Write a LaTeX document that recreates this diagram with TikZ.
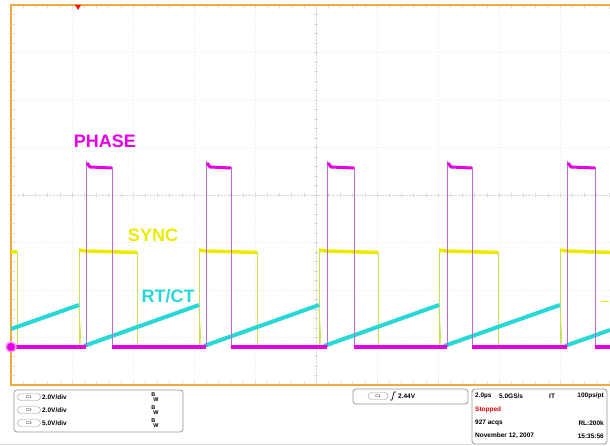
\documentclass[tikz,border=0pt]{standalone}
\usepackage{fontspec}
\setmainfont{Liberation Sans}
\usepackage{xcolor}
\definecolor{scopeorange}{RGB}{240,170,60}
\definecolor{phasemag}{RGB}{230,0,230}
\definecolor{phaseedge}{RGB}{185,110,205}
\definecolor{syncyellow}{RGB}{235,235,0}
\definecolor{syncedge}{RGB}{200,225,90}
\definecolor{rampcyan}{RGB}{40,215,215}
\definecolor{panelgray}{RGB}{150,150,150}

\begin{document}
\begin{tikzpicture}[x=1pt,y=-1pt]
            \useasboundingbox (0,0) rectangle (610,446);

            % Graticule
            \foreach \gx in {72,133,194,255,377,438,499,560}
                \draw[gray!14,dotted] (\gx,5) -- (\gx,385);
            \foreach \gy in {52.5,100,147.5,242.5,290,337.5}
                \draw[gray!14,dotted] (11,\gy) -- (610,\gy);
            \draw[gray!30,densely dotted] (316,5) -- (316,385);
            \draw[gray!30,densely dotted] (11,195) -- (610,195);
            \foreach \t in {0,...,49} {
                \draw[gray!30] (11+12.2*\t,193) -- (11+12.2*\t,197);
                \draw[gray!25] (11+12.2*\t,5) -- (11+12.2*\t,9);
                \draw[gray!25] (11+12.2*\t,381) -- (11+12.2*\t,385);
            }
            \foreach \t in {0,...,40} {
                \draw[gray!30] (314,5+9.5*\t) -- (318,5+9.5*\t);
                \draw[gray!25] (11,5+9.5*\t) -- (15,5+9.5*\t);
            }

            % Screen frame
            \draw[scopeorange,line width=2pt] (610,5) -- (11,5) -- (11,385) -- (610,385);

            % SYNC trace
            \draw[syncedge,line width=0.7pt] (17,252) -- (17,347)
                (79,347) -- (79,252) (137,252) -- (137,347)
                (199,347) -- (199,252) (257,252) -- (257,347)
                (319,347) -- (319,252) (378,252) -- (378,347)
                (439,347) -- (439,252) (498,252) -- (498,347)
                (560,347) -- (560,252);
            \draw[syncyellow,line width=3.5pt] (11,252) -- (17,252)
                (79,250) -- (86,251) -- (137,252.5)
                (199,250) -- (206,251) -- (257,252.5)
                (319,250) -- (326,251) -- (378,252.5)
                (439,250) -- (446,251) -- (498,252.5)
                (560,250) -- (567,251) -- (610,252.5);

            % RT/CT trace
            \draw[syncedge,line width=0.8pt] (79,305) -- (81,345)
                (199,305) -- (201,345) (319,305) -- (321,345)
                (439,305) -- (441,345) (560,305) -- (562,345);
            \draw[rampcyan,line width=4pt] (11,329) -- (79,305)
                (84,346) -- (199,305) (204,346) -- (319,305)
                (324,346) -- (439,305) (444,346) -- (560,305)
                (565,346) -- (610,330);

            % PHASE trace
            \draw[phaseedge,line width=1pt] (86,347) -- (86,161)
                (112,167) -- (112,347) (206,347) -- (206,161)
                (231,167) -- (231,347) (327,347) -- (327,161)
                (354,167) -- (354,347) (447,347) -- (447,161)
                (472,167) -- (472,347) (567,347) -- (567,161)
                (595,167) -- (595,347);
            \draw[phasemag,line width=3.5pt] (11,347) -- (86,347)
                (112,347) -- (206,347) (231,347) -- (327,347)
                (354,347) -- (447,347) (472,347) -- (567,347)
                (595,347) -- (610,347);
            \draw[phasemag,line width=3pt] (87,163) -- (90,167) -- (112,168)
                (207,163) -- (210,167) -- (231,168)
                (328,163) -- (331,167) -- (354,168)
                (448,163) -- (451,167) -- (472,168)
                (568,163) -- (571,167) -- (595,168);

            % Markers
            \fill[phasemag,draw=phasemag!40,line width=1.5pt] (11,347) circle (5);
            \fill[red!85!orange] (75,5) -- (81,5) -- (78,10) -- cycle;
            \draw[syncyellow,line width=1pt] (601,301) -- (609,301);

            % Trace labels
            \node[text=phasemag,font=\bfseries\fontsize{18}{20}\selectfont] (phaselbl) at (105,141) {PHASE};
            \node[text=syncyellow,font=\bfseries\fontsize{18}{20}\selectfont] (synclbl) at (153,235) {SYNC};
            \node[text=rampcyan,fill=white,inner sep=1pt,font=\bfseries\fontsize{18}{20}\selectfont] (rtctlbl) at (168,296) {RT/CT};

            % Channel panel
            \draw[panelgray,rounded corners=3pt,line width=0.8pt] (14,390) rectangle (183,432);
            \node[draw=panelgray,rounded corners=3.5pt,minimum width=23pt,minimum height=7pt,inner sep=0pt,font=\fontsize{4}{4}\selectfont] (ch1pill) at (29,397) {C1};
            \node[draw=panelgray,rounded corners=3.5pt,minimum width=23pt,minimum height=7pt,inner sep=0pt,font=\fontsize{4}{4}\selectfont] (ch2pill) at (29,410) {C2};
            \node[draw=panelgray,rounded corners=3.5pt,minimum width=23pt,minimum height=7pt,inner sep=0pt,font=\fontsize{4}{4}\selectfont] (ch3pill) at (29,423) {C3};
            \node[anchor=west,inner sep=0pt,font=\bfseries\fontsize{6.5}{7}\selectfont] (ch1scale) at (42,397) {2.0V/div};
            \node[anchor=west,inner sep=0pt,font=\bfseries\fontsize{6.5}{7}\selectfont] (ch2scale) at (42,410) {2.0V/div};
            \node[anchor=west,inner sep=0pt,font=\bfseries\fontsize{6.5}{7}\selectfont] (ch3scale) at (42,423) {5.0V/div};
            \node[align=left,inner sep=0pt,font=\bfseries\fontsize{5.5}{4.5}\selectfont] (ch1bw) at (155,397) {B\\\hspace*{2pt}W};
            \node[align=left,inner sep=0pt,font=\bfseries\fontsize{5.5}{4.5}\selectfont] (ch2bw) at (155,410) {B\\\hspace*{2pt}W};
            \node[align=left,inner sep=0pt,font=\bfseries\fontsize{5.5}{4.5}\selectfont] (ch3bw) at (155,423) {B\\\hspace*{2pt}W};

            % Trigger panel
            \draw[panelgray,rounded corners=3pt,line width=0.8pt] (353,389) rectangle (468,404);
            \node[draw=panelgray,rounded corners=3.5pt,minimum width=20pt,minimum height=7pt,inner sep=0pt,font=\fontsize{4}{4}\selectfont] (trigpill) at (378,396) {C1};
            \draw[line width=0.7pt] (390,400) -- (392,400) -- (394,392) -- (396,392);
            \node[anchor=west,inner sep=0pt,font=\bfseries\fontsize{6.5}{7}\selectfont] (triglevel) at (398,396) {2.44V};

            % Acquisition panel
            \draw[panelgray,rounded corners=3pt,line width=0.8pt] (472,389) rectangle (607,444);
            \node[anchor=west,inner sep=0pt,font=\bfseries\fontsize{6.5}{7}\selectfont] (timebase) at (475,396) {2.0µs};
            \node[anchor=west,inner sep=0pt,font=\bfseries\fontsize{6.5}{7}\selectfont] (samplerate) at (499,396) {5.0GS/s};
            \node[anchor=west,inner sep=0pt,font=\bfseries\fontsize{6.5}{7}\selectfont] (acqmode) at (549,396) {IT};
            \node[anchor=east,inner sep=0pt,font=\bfseries\fontsize{6.5}{7}\selectfont] (resolution) at (604,396) {100ps/pt};
            \node[anchor=west,inner sep=0pt,text=red!85!black,font=\bfseries\fontsize{6.5}{7}\selectfont] (runstate) at (475,410) {Stopped};
            \node[anchor=west,inner sep=0pt,font=\bfseries\fontsize{6.5}{7}\selectfont] (acqcount) at (475,423) {927 acqs};
            \node[anchor=east,inner sep=0pt,font=\bfseries\fontsize{6.5}{7}\selectfont] (reclength) at (604,423) {RL:200k};
            \node[anchor=west,inner sep=0pt,font=\bfseries\fontsize{6.5}{7}\selectfont] (datestamp) at (475,436) {November 12, 2007};
            \node[anchor=east,inner sep=0pt,font=\bfseries\fontsize{6.5}{7}\selectfont] (timestamp) at (604,436) {15:35:56};

            % Screenshot edge
            \draw[gray!25] (0,444.5) -- (472,444.5);
        \end{tikzpicture}
\end{document}
